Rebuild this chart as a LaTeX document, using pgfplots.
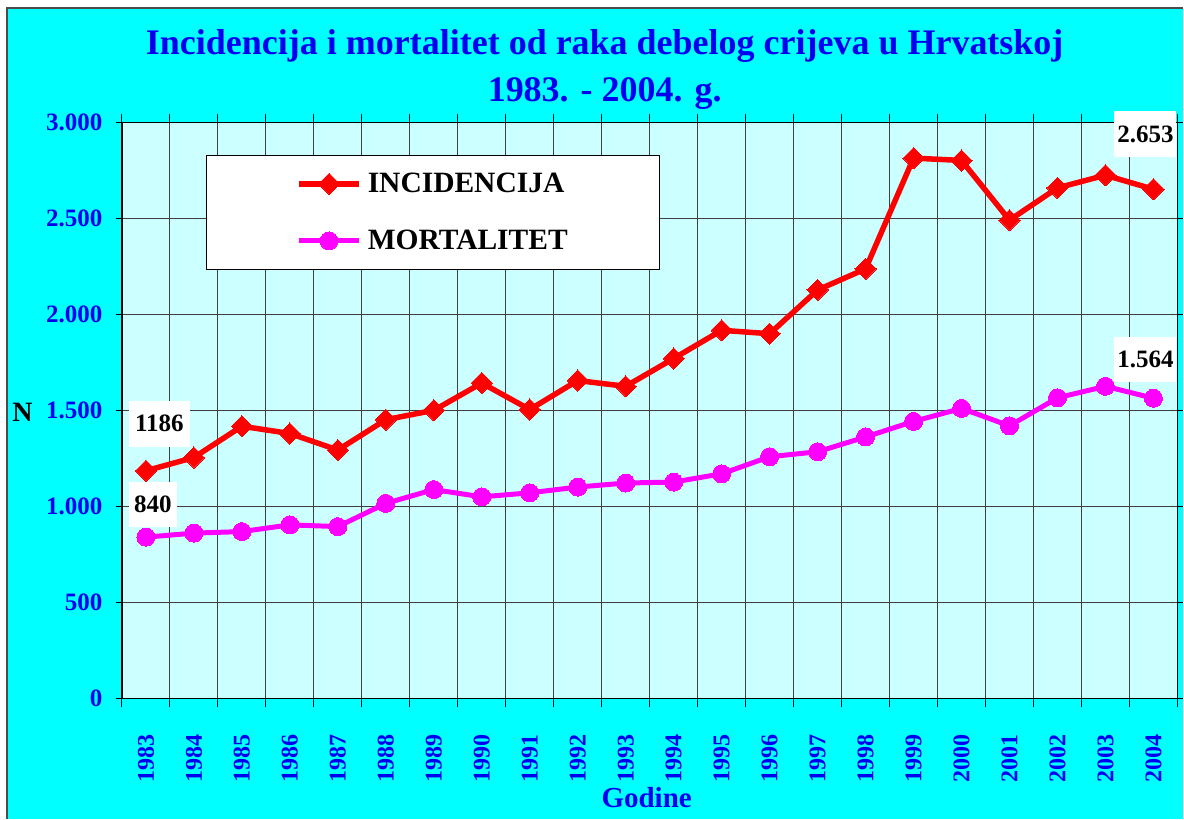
\documentclass[border=0pt]{standalone}
\usepackage{fontspec}
\setmainfont{Liberation Serif}
\usepackage{pgfplots}
\pgfplotsset{compat=1.18}
\definecolor{bgcyan}{RGB}{0,255,255}
\definecolor{plotcyan}{RGB}{204,255,255}
\definecolor{titleblue}{RGB}{0,0,240}
\definecolor{incred}{RGB}{255,0,0}
\definecolor{mortmag}{RGB}{255,0,255}
\begin{document}
\begin{tikzpicture}[x=1pt,y=1pt]
\fill[white] (0,0) rectangle (1184,819);
\fill[bgcyan] (7,0) rectangle (1184,811);
\draw[black!70, line width=1.2pt] (7,0) -- (7,811) -- (1184,811);
\begin{axis}[
  scale only axis, width=1056pt, height=576pt,
  anchor=south west, at={(122pt,120.3pt)},
  xmin=-0.5, xmax=21.5, ymin=0, ymax=3000,
  axis background/.style={fill=plotcyan},
  axis line style={black, line width=1.2pt},
  xtick={0,...,21},
  xticklabels={1983,1984,1985,1986,1987,1988,1989,1990,1991,1992,1993,1994,1995,1996,1997,1998,1999,2000,2001,2002,2003,2004},
  minor xtick={-0.5,0.5,...,21.5},
  xminorgrids=true, xmajorgrids=false,
  ytick={0,500,...,3000},
  ymajorgrids=true,
  grid style={black!75, line width=0.9pt},
  minor grid style={black!75, line width=0.9pt},
  tick align=outside,
  major tick length=6pt, minor tick length=9pt,
  tick style={black, line width=1pt},
  major x tick style={draw=none},
  /pgf/number format/.cd, 1000 sep={.}, assume math mode=true,
  /pgfplots/.cd,
  yticklabel style={font=\fontsize{25}{25}\selectfont\bfseries, text=titleblue, xshift=-10pt},
  xticklabel style={rotate=90, anchor=east, font=\fontsize{24}{24}\selectfont\bfseries, text=titleblue},
  xticklabel shift=27pt,
  legend style={at={(0.0795,0.944)}, anchor=north west, draw=black, line width=1pt, fill=white,
    font=\fontsize{29.5}{30}\selectfont\bfseries, inner xsep=90pt, inner ysep=16pt, row sep=32pt, column sep=4pt},
  legend cell align=left,
  legend image code/.code={\draw[mark repeat=2,mark phase=2,#1] plot coordinates {(0pt,0pt) (30pt,0pt) (60pt,0pt)};},
]
\addplot[incred, line width=5.5pt, mark=square*, mark size=7.5pt,
  mark options={rotate=45, solid, fill=incred, draw=incred, line width=0pt}]
  coordinates {(0,1186) (1,1255) (2,1418) (3,1380) (4,1294) (5,1452) (6,1501) (7,1643) (8,1505) (9,1656) (10,1626) (11,1771) (12,1918) (13,1900) (14,2128) (15,2238) (16,2815) (17,2803) (18,2492) (19,2660) (20,2726) (21,2653)};
\addlegendentry{INCIDENCIJA}
\addplot[mortmag, line width=5pt, mark=*, mark size=9pt,
  mark options={solid, fill=mortmag, draw=mortmag, line width=0pt}]
  coordinates {(0,840) (1,861) (2,869) (3,904) (4,895) (5,1016) (6,1088) (7,1050) (8,1071) (9,1101) (10,1122) (11,1127) (12,1170) (13,1259) (14,1285) (15,1362) (16,1443) (17,1511) (18,1420) (19,1566) (20,1626) (21,1564)};
\addlegendentry{MORTALITET}
\end{axis}
\node[anchor=base, font=\fontsize{36}{36}\selectfont\bfseries, text=titleblue] at (605,764) {Incidencija i mortalitet od raka debelog crijeva u Hrvatskoj};
\node[anchor=base, font=\fontsize{36}{36}\selectfont\bfseries, text=titleblue] at (605,717) {1983. - 2004. g.};
\node[anchor=base, font=\fontsize{28}{28}\selectfont\bfseries] at (22.5,397) {N};
\node[anchor=base, font=\fontsize{29}{29}\selectfont\bfseries, text=titleblue] at (647,11) {Godine};
\node[fill=white, minimum width=61pt, minimum height=46pt, inner sep=0pt, font=\fontsize{25}{25}\selectfont\bfseries] at (159.5,395) {1186};
\node[fill=white, minimum width=48pt, minimum height=45pt, inner sep=0pt, font=\fontsize{25}{25}\selectfont\bfseries] at (153,314.5) {840};
\node[fill=white, minimum width=62pt, minimum height=46pt, inner sep=0pt, font=\fontsize{25}{25}\selectfont\bfseries] at (1146,685) {2.653};
\node[fill=white, minimum width=62pt, minimum height=45pt, inner sep=0pt, font=\fontsize{25}{25}\selectfont\bfseries] at (1146,459.5) {1.564};
\end{tikzpicture}
\end{document}
